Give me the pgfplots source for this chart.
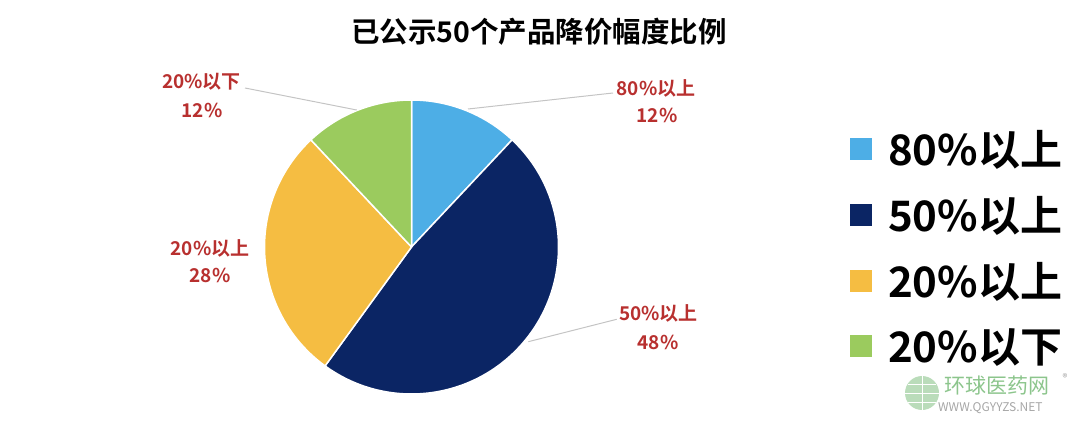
\documentclass[border=0pt]{standalone}
\usepackage{pgfplots}
\pgfplotsset{compat=1.18}
\usepackage{pgfplotstable}
\usepackage{fontspec}
\setmainfont{Noto Sans CJK SC}[BoldFont={Noto Sans CJK SC Bold}]
\definecolor{c1}{HTML}{4DAEE6}
\definecolor{c2}{HTML}{0B2564}
\definecolor{c3}{HTML}{F5BD42}
\definecolor{c4}{HTML}{9BCB5E}
\definecolor{lab}{HTML}{B8302F}
\definecolor{lead}{HTML}{C4C4C4}
\definecolor{wm}{HTML}{8CC58C}
\pgfplotstableread{
value color
12 c1
48 c2
28 c3
12 c4
}\pietable
\begin{document}
\begin{tikzpicture}
\begin{axis}[
  width=1080pt, height=432pt, scale only axis,
  xmin=0, xmax=1080, ymin=0, ymax=432,
  hide axis, clip=false,
  legend cell align=left,
  legend image code/.code={\fill[#1, draw=none] (0pt,-11pt) rectangle (22pt,11pt);},
  legend style={at={(axis cs:850,299.5)}, anchor=north west, draw=none, fill=none,
    inner sep=0pt, row sep=32.7pt, column sep=16pt,
    font=\bfseries\fontsize{42}{42}\selectfont,
    nodes={inner sep=0pt, text height=33pt, text depth=0pt}},
]
\gdef\cum{0}
\pgfplotsinvokeforeach{0,1,2,3}{
  \pgfplotstablegetelem{#1}{value}\of\pietable
  \let\v\pgfplotsretval
  \pgfmathsetmacro\s{90-3.6*\cum}
  \pgfmathsetmacro\e{90-3.6*(\cum+\v)}
  \pgfmathsetmacro\nc{\cum+\v}
  \global\let\cum\nc
  \pgfplotstablegetelem{#1}{color}\of\pietable
  \let\cc\pgfplotsretval
  \edef\temp{\noexpand\fill[fill=\cc, draw=white, line width=1.5pt, line join=round]
    (axis cs:411.5,185) -- ++(\s:147pt) arc[start angle=\s, end angle=\e, radius=147pt] -- cycle;}
  \temp
}
\addlegendimage{fill=c1, draw=none}\addlegendentry{80\%以上}
\addlegendimage{fill=c2, draw=none}\addlegendentry{50\%以上}
\addlegendimage{fill=c3, draw=none}\addlegendentry{20\%以上}
\addlegendimage{fill=c4, draw=none}\addlegendentry{20\%以下}
% leader lines
\draw[lead, line width=1pt] (axis cs:468,323) -- (axis cs:613,339);
\draw[lead, line width=1pt] (axis cs:356.7,322) -- (axis cs:245,344);
\draw[lead, line width=1pt] (axis cs:528.3,90.3) -- (axis cs:616.7,112.7);
% data labels
\begin{scope}[every node/.style={text=lab, font=\bfseries\fontsize{19}{19}\selectfont, inner sep=0pt}]
\node at (axis cs:656,344) {80\%以上};
\node at (axis cs:657,317) {12\%};
\node at (axis cs:658.5,119) {50\%以上};
\node at (axis cs:658,90) {48\%};
\node at (axis cs:210,184) {20\%以上};
\node at (axis cs:210,157) {28\%};
\node at (axis cs:201.5,350) {20\%以下};
\node at (axis cs:202,322) {12\%};
\end{scope}
% title
\node[font=\bfseries\fontsize{28.5}{28.5}\selectfont, inner sep=0pt] at (axis cs:539,400) {已公示50个产品降价幅度比例};
% watermark
\fill[wm!60] (axis cs:922,39) circle[radius=17pt];
\draw[white, line width=0.8pt] (axis cs:905,39) -- (axis cs:939,39) (axis cs:922,22) -- (axis cs:922,56)
  (axis cs:908,48) -- (axis cs:936,48) (axis cs:908,30) -- (axis cs:936,30);
\node[text=wm, font=\fontsize{21}{21}\selectfont, inner sep=0pt, anchor=west] at (axis cs:944,46) {环球医药网};
\node[text=gray!70, font=\fontsize{12}{12}\selectfont, inner sep=0pt, anchor=west] at (axis cs:938,24) {WWW.QGYYZS.NET};
\node[text=gray!70, font=\fontsize{10}{10}\selectfont, inner sep=0pt] at (axis cs:1065,54) {®};
\end{axis}
\pgfresetboundingbox
\path (0,0) rectangle (1080pt,432pt);
\end{tikzpicture}
\end{document}
